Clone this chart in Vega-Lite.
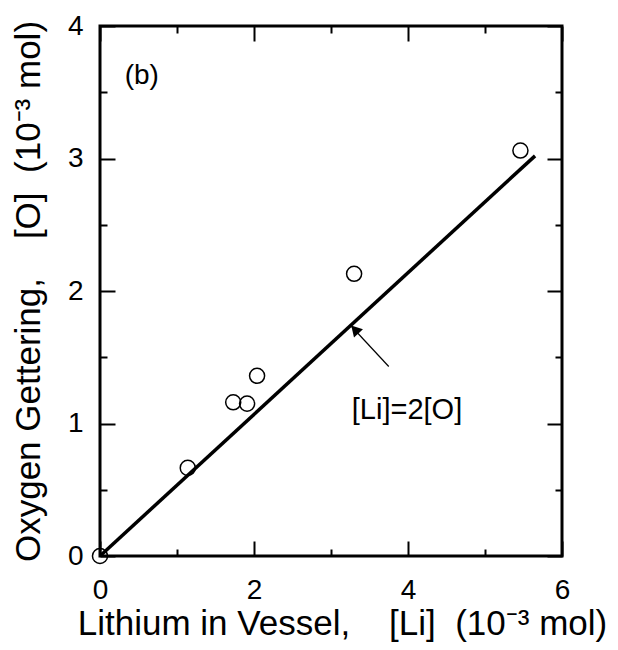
{
  "$schema": "https://vega.github.io/schema/vega-lite/v6.json",
  "width": 462,
  "height": 530,
  "autosize": {"type": "none"},
  "padding": {"left": 100, "top": 26, "right": 56, "bottom": 94},
  "background": "white",
  "config": {
    "view": {"stroke": "black", "strokeWidth": 3},
    "font": "Liberation Sans",
    "axis": {
      "grid": false,
      "domain": false,
      "labelFont": "Liberation Sans",
      "labelFontSize": 28,
      "labelColor": "black",
      "titleFont": "Liberation Sans",
      "titleFontSize": 35,
      "titleFontWeight": "normal",
      "titleColor": "black",
      "tickColor": "black",
      "tickWidth": 2
    }
  },
  "datasets": {
    "pts": [
      {"li": 0, "o": 0},
      {"li": 1.14, "o": 0.665},
      {"li": 1.73, "o": 1.16},
      {"li": 1.91, "o": 1.15},
      {"li": 2.04, "o": 1.36},
      {"li": 3.3, "o": 2.13},
      {"li": 5.46, "o": 3.06}
    ],
    "fit": [
      {"li": 0, "o": 0},
      {"li": 5.65, "o": 3.02}
    ],
    "arrow": [
      {"li": 3.75, "o": 1.43, "li2": 3.27, "o2": 1.73}
    ],
    "head": [
      {"li": 3.31, "o": 1.71}
    ],
    "lbl": [
      {"li": 3.27, "o": 1.1, "t": "[Li]=2[O]"}
    ],
    "tag": [
      {"li": 0.32, "o": 3.62, "t": "(b)"}
    ]
  },
  "resolve": {"axis": {"x": "independent", "y": "independent"}},
  "layer": [
    {
      "data": {"name": "pts"},
      "mark": {"type": "point", "shape": "circle", "size": 227, "strokeWidth": 1.5, "color": "black", "opacity": 1, "clip": false},
      "encoding": {
        "x": {"field": "li", "type": "quantitative", "scale": {"domain": [0, 6], "nice": false, "zero": false},
          "axis": {"orient": "bottom", "values": [0, 2, 4, 6], "ticks": false, "labelPadding": 20, "labelFlush": false,
            "title": "Lithium in Vessel,\u00a0\u00a0\u00a0\u00a0[Li]\u00a0\u00a0(10\u207b\u00b3 mol)", "titleX": 242, "titleY": 78, "titleBaseline": "alphabetic", "titleAlign": "center"}},
        "y": {"field": "o", "type": "quantitative", "scale": {"domain": [0, 4], "nice": false, "zero": false},
          "axis": {"orient": "left", "values": [0, 1, 2, 3, 4], "ticks": false, "labelPadding": 17, "labelFlush": false,
            "title": "Oxygen Gettering,\u00a0\u00a0\u00a0\u00a0[O]\u00a0\u00a0(10\u207b\u00b3 mol)", "titleX": -61, "titleBaseline": "alphabetic", "titleAngle": -90}}
      }
    },
    {
      "data": {"name": "fit"},
      "mark": {"type": "line", "color": "black", "strokeWidth": 3.5},
      "encoding": {
        "x": {"field": "li", "type": "quantitative", "axis": {"orient": "bottom", "values": [0, 2, 4, 6], "offset": -15, "tickSize": 15, "labels": false, "title": null}},
        "y": {"field": "o", "type": "quantitative", "axis": {"orient": "left", "values": [0, 1, 2, 3, 4], "offset": -15, "tickSize": 15, "labels": false, "title": null}}
      }
    },
    {
      "data": {"name": "arrow"},
      "mark": {"type": "rule", "color": "black", "strokeWidth": 1.2},
      "encoding": {
        "x": {"field": "li", "type": "quantitative", "axis": {"orient": "bottom", "values": [1, 3, 5], "offset": -7, "tickSize": 7, "labels": false, "title": null}},
        "y": {"field": "o", "type": "quantitative", "axis": {"orient": "left", "values": [0.5, 1.5, 2.5, 3.5], "offset": -7, "tickSize": 7, "labels": false, "title": null}},
        "x2": {"field": "li2"},
        "y2": {"field": "o2"}
      }
    },
    {
      "data": {"name": "head"},
      "mark": {"type": "point", "shape": "triangle-up", "size": 150, "angle": 317, "filled": true, "color": "black", "opacity": 1},
      "encoding": {
        "x": {"field": "li", "type": "quantitative", "axis": {"orient": "top", "values": [0, 2, 4, 6], "offset": -15, "tickSize": 15, "labels": false, "title": null}},
        "y": {"field": "o", "type": "quantitative", "axis": {"orient": "right", "values": [0, 1, 2, 3, 4], "offset": -15, "tickSize": 15, "labels": false, "title": null}}
      }
    },
    {
      "data": {"name": "lbl"},
      "mark": {"type": "text", "align": "left", "baseline": "middle", "fontSize": 29, "font": "Liberation Sans", "color": "black"},
      "encoding": {
        "x": {"field": "li", "type": "quantitative", "axis": {"orient": "top", "values": [1, 3, 5], "offset": -7, "tickSize": 7, "labels": false, "title": null}},
        "y": {"field": "o", "type": "quantitative", "axis": {"orient": "right", "values": [0.5, 1.5, 2.5, 3.5], "offset": -7, "tickSize": 7, "labels": false, "title": null}},
        "text": {"field": "t"}
      }
    },
    {
      "data": {"name": "tag"},
      "mark": {"type": "text", "align": "left", "baseline": "middle", "fontSize": 28, "font": "Liberation Sans", "color": "black"},
      "encoding": {
        "x": {"field": "li", "type": "quantitative", "axis": null},
        "y": {"field": "o", "type": "quantitative", "axis": null},
        "text": {"field": "t"}
      }
    }
  ]
}
